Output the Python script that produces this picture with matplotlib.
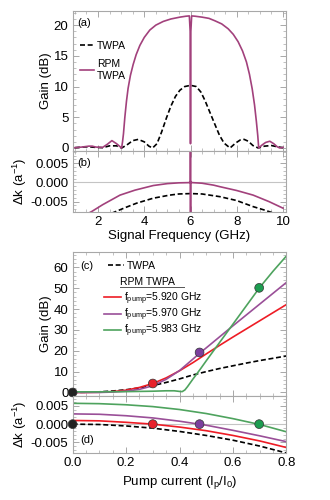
import numpy as np
import matplotlib
matplotlib.use('Agg')
import matplotlib.pyplot as plt
from matplotlib.ticker import MultipleLocator
from matplotlib.lines import Line2D

plt.rcParams['font.family'] = ['Liberation Sans', 'DejaVu Sans']
plt.rcParams['mathtext.fontset'] = 'custom'
plt.rcParams['mathtext.rm'] = 'Liberation Sans'
plt.rcParams['mathtext.it'] = 'Liberation Sans:italic'

# ---- (a) gain vs signal frequency ----
freq_twpa = [1.0, 1.3, 1.6, 1.9, 2.2, 2.5, 2.8, 3.02, 3.25, 3.5, 3.74, 4.0, 4.2, 4.36,
             4.55, 4.75, 4.96, 5.15, 5.35, 5.54, 5.75, 6.0, 6.25, 6.45, 6.63, 6.85,
             7.06, 7.25, 7.45, 7.71, 7.95, 8.15, 8.32, 8.5, 8.7, 8.93, 9.2, 9.5, 9.75, 10.0]
gain_twpa = [0.05, 0.15, 0.2, 0.1, 0.05, 0.35, 0.35, 0.0, 0.5, 1.2, 1.4, 1.0, 0.3, 0.0,
             0.7, 2.6, 4.9, 6.8, 8.4, 9.4, 10.0, 10.2, 10.0, 9.1, 7.7, 5.7,
             3.8, 2.1, 0.8, 0.0, 0.8, 1.3, 1.4, 1.1, 0.4, 0.0, 0.3, 0.4, 0.2, 0.05]

freq_rpm = [1.0, 1.3, 1.6, 1.75, 1.9, 2.2, 2.4, 2.6, 2.8, 3.02, 3.06, 3.1, 3.16, 3.23,
            3.3, 3.4, 3.52, 3.65, 3.81, 4.0, 4.24, 4.5, 4.82, 5.15, 5.54, 5.8, 5.95,
            5.985, 5.998, 6.0, 6.002, 6.015, 6.05, 6.2, 6.5, 6.8, 7.06, 7.35, 7.63,
            7.85, 8.06, 8.25, 8.42, 8.55, 8.67, 8.77, 8.85, 8.91, 8.95, 9.1, 9.25,
            9.43, 9.6, 9.75, 9.86, 10.0]
gain_rpm = [0.05, 0.15, 0.3, 0.3, 0.15, 0.1, 0.6, 1.2, 0.7, 0.0, 1.0, 2.3, 5.0, 7.6,
            9.7, 11.8, 13.6, 15.2, 16.7, 18.0, 19.2, 20.0, 20.6, 21.0, 21.3, 21.45, 21.5,
            19.0, 5.0, 0.7, 5.0, 19.0, 21.5, 21.45, 21.3, 21.1, 20.7, 20.2, 19.4,
            18.5, 17.3, 15.8, 14.0, 12.0, 9.6, 7.0, 4.3, 2.0, 0.0, 0.5, 0.9,
            1.1, 0.7, 0.2, 0.0, 0.1]

# ---- (b) phase mismatch vs signal frequency ----
freq_dk_twpa = [2.3, 2.6, 3.2, 3.67, 4.39, 5.1, 5.5, 6.0, 6.5, 7.27, 7.99, 8.71, 9.2, 9.5, 9.8]
dk_twpa = [-0.0090, -0.0080, -0.0065, -0.0054, -0.0041, -0.0033, -0.0030, -0.0029,
           -0.0030, -0.0037, -0.0047, -0.0063, -0.0072, -0.0078, -0.0086]

freq_dk_rpm = [1.0, 1.72, 2.2, 2.95, 3.6, 4.39, 5.0, 5.5, 5.9, 5.98, 5.995, 5.999, 6.001,
               6.005, 6.02, 6.1, 6.5, 7.0, 7.27, 8.0, 8.71, 9.4, 10.0]
dk_rpm = [-0.0098, -0.0076, -0.0058, -0.0033, -0.0020, -0.0008, -0.0003, -0.0001, -0.00005,
          0.0, 0.0003, 0.02, -0.02, 0.0003, 0.0, -0.00005, -0.0002, -0.0007, -0.0011,
          -0.0021, -0.0033, -0.0050, -0.0067]

# ---- (c) gain vs pump current ----
ip = [0.0, 0.05, 0.1, 0.15, 0.2, 0.25, 0.3, 0.35, 0.4, 0.45, 0.475, 0.5, 0.55, 0.6,
      0.65, 0.7, 0.75, 0.8]
gc_twpa = [0.0, 0.1, 0.3, 0.7, 1.3, 2.2, 3.3, 4.8, 6.5, 8.4, 9.2, 10.0, 11.5, 12.8,
           14.1, 15.3, 16.4, 17.5]
gc_920 = [0.0, 0.0, 0.1, 0.4, 1.1, 2.4, 4.3, 7.0, 10.4, 14.3, 16.4, 18.5, 22.6, 26.6,
          30.5, 34.4, 38.3, 42.2]
gc_970 = [0.0, 0.0, 0.0, 0.2, 0.6, 1.5, 3.2, 6.3, 10.5, 16.0, 18.8, 21.4, 26.7, 32.0,
          37.2, 42.4, 47.6, 52.8]
ip_983 = [0.0, 0.1, 0.2, 0.3, 0.35, 0.38, 0.40, 0.41, 0.42, 0.43, 0.44, 0.45, 0.46,
          0.48, 0.5, 0.55, 0.6, 0.65, 0.7, 0.75, 0.8]
gc_983 = [0.3, 0.3, 0.4, 0.6, 0.8, 0.8, 0.5, 0.4, 1.2, 2.8, 4.6, 6.4, 8.1,
          11.6, 15.2, 24.0, 32.8, 41.6, 50.4, 58.2, 65.5]

# ---- (d) phase mismatch vs pump current ----
ip_d = [0.0, 0.1, 0.2, 0.3, 0.4, 0.5, 0.6, 0.7, 0.8]
dk_d_twpa = [0.0, -0.0001, -0.0005, -0.0011, -0.0020, -0.0031, -0.0044, -0.0060, -0.0079]
dk_d_920 = [0.0010, 0.0009, 0.0005, 0.0, -0.0008, -0.0018, -0.0031, -0.0046, -0.0064]
dk_d_970 = [0.0028, 0.0027, 0.0023, 0.0017, 0.0008, -0.0003, -0.0017, -0.0032, -0.0048]
dk_d_983 = [0.0057, 0.0056, 0.0053, 0.0048, 0.0040, 0.0029, 0.0015, -0.0001, -0.0021]

# operating points
op_ip = [0.0, 0.3, 0.475, 0.698]
op_gain = [0.0, 4.3, 19.2, 50.2]
op_dk = [0.0, 0.0, 0.0, 0.0]
op_colors = ['#222222', '#e8212b', '#7b3f9e', '#1c9d50']

purple_a = '#a2417c'
red = '#ee1c25'
purple_c = '#9a4f98'
green = '#4ea35e'
frame_col = '#a8a8a8'

fig = plt.figure(figsize=(3.3, 5.0), dpi=100)
ax_a = fig.add_axes([0.220, 0.698, 0.648, 0.280])
ax_b = fig.add_axes([0.220, 0.576, 0.648, 0.122])
ax_c = fig.add_axes([0.220, 0.208, 0.648, 0.288])
ax_d = fig.add_axes([0.220, 0.094, 0.648, 0.114])


def frame(ax):
    for s in ax.spines.values():
        s.set_color(frame_col)
        s.set_linewidth(0.8)
    ax.tick_params(which='both', direction='in', top=True, right=True,
                   color=frame_col, labelsize=9.5, pad=3)
    ax.tick_params(which='major', length=4, width=0.7)
    ax.tick_params(which='minor', length=2, width=0.5)


dash = (0, (3, 1.6))

# (a)
ax_a.plot(freq_twpa, gain_twpa, color='black', lw=1.2, ls=dash, label='TWPA')
ax_a.plot(freq_rpm, gain_rpm, color=purple_a, lw=1.2, label='RPM\nTWPA')
ax_a.set_xlim(0.9, 10.15)
ax_a.set_ylim(-0.49, 22.3)
ax_a.xaxis.set_major_locator(MultipleLocator(2))
ax_a.xaxis.set_minor_locator(MultipleLocator(0.5))
ax_a.yaxis.set_major_locator(MultipleLocator(5))
ax_a.yaxis.set_minor_locator(MultipleLocator(1))
frame(ax_a)
ax_a.tick_params(labelbottom=False)
ax_a.set_ylabel('Gain (dB)', fontsize=9.5)
ax_a.yaxis.set_label_coords(-0.095, 0.5)
ax_a.text(0.02, 0.915, '(a)', transform=ax_a.transAxes, fontsize=8, va='center')
ax_a.legend(loc='upper left', bbox_to_anchor=(0.0, 0.84), frameon=False, fontsize=7.5,
            handlelength=1.4, handletextpad=0.25, labelspacing=0.8, borderpad=0.2)

# (b)
ax_b.axhline(0, color='#c4c4c4', lw=0.8)
ax_b.plot(freq_dk_twpa, dk_twpa, color='black', lw=1.2, ls=dash)
ax_b.plot(freq_dk_rpm, dk_rpm, color=purple_a, lw=1.2)
ax_b.set_xlim(0.9, 10.15)
ax_b.set_ylim(-0.0077, 0.0082)
ax_b.xaxis.set_major_locator(MultipleLocator(2))
ax_b.xaxis.set_minor_locator(MultipleLocator(0.5))
ax_b.yaxis.set_major_locator(MultipleLocator(0.005))
ax_b.yaxis.set_minor_locator(MultipleLocator(0.001))
ax_b.yaxis.set_major_formatter(lambda v, p: f'{v:.3f}'.replace('-0.000', '0.000'))
frame(ax_b)
ax_b.set_ylabel('Δk (a$^{-1}$)', fontsize=9.5)
ax_b.yaxis.set_label_coords(-0.205, 0.5)
ax_b.set_xlabel('Signal Frequency (GHz)', fontsize=9.5)
ax_b.xaxis.set_label_coords(0.5, -0.29)
ax_b.text(0.02, 0.8, '(b)', transform=ax_b.transAxes, fontsize=8, va='center')

# (c)
l_twpa, = ax_c.plot(ip, gc_twpa, color='black', lw=1.2, ls=dash)
l1, = ax_c.plot(ip, gc_920, color=red, lw=1.2)
l2, = ax_c.plot(ip, gc_970, color=purple_c, lw=1.2)
l3, = ax_c.plot(ip_983, gc_983, color=green, lw=1.2)
ax_c.scatter(op_ip, op_gain, s=40, c=op_colors, edgecolors='#333333', linewidths=0.5,
             zorder=5, clip_on=False)
ax_c.set_xlim(0, 0.8)
ax_c.set_ylim(-1.7, 67.4)
ax_c.xaxis.set_major_locator(MultipleLocator(0.2))
ax_c.xaxis.set_minor_locator(MultipleLocator(0.05))
ax_c.yaxis.set_major_locator(MultipleLocator(10))
ax_c.yaxis.set_minor_locator(MultipleLocator(2))
frame(ax_c)
ax_c.tick_params(labelbottom=False)
ax_c.set_ylabel('Gain (dB)', fontsize=9.5)
ax_c.yaxis.set_label_coords(-0.095, 0.5)
ax_c.text(0.035, 0.9, '(c)', transform=ax_c.transAxes, fontsize=8, va='center')
leg1 = ax_c.legend([l_twpa], ['TWPA'], loc='upper left', bbox_to_anchor=(0.13, 0.99),
                   frameon=False, fontsize=7.5, handlelength=1.6, handletextpad=0.25,
                   borderpad=0.2)
ax_c.add_artist(leg1)
ax_c.text(0.22, 0.795, 'RPM TWPA', transform=ax_c.transAxes, fontsize=7.5, va='center')
ax_c.add_artist(Line2D([0.22, 0.52], [0.755, 0.755], transform=ax_c.transAxes,
                       color='#555555', lw=0.7))
ax_c.legend([l1, l2, l3],
            ['f$_\\mathrm{pump}$=5.920 GHz', 'f$_\\mathrm{pump}$=5.970 GHz',
             'f$_\\mathrm{pump}$=5.983 GHz'],
            loc='upper left', bbox_to_anchor=(0.115, 0.785), frameon=False, fontsize=7.5,
            handlelength=1.6, handletextpad=0.25, labelspacing=0.0, borderpad=0.2)

# (d)
ax_d.axhline(0, color='#c4c4c4', lw=0.8)
ax_d.plot(ip_d, dk_d_twpa, color='black', lw=1.2, ls=dash)
ax_d.plot(ip_d, dk_d_920, color=red, lw=1.2)
ax_d.plot(ip_d, dk_d_970, color=purple_c, lw=1.2)
ax_d.plot(ip_d, dk_d_983, color=green, lw=1.2)
ax_d.scatter(op_ip, op_dk, s=40, c=op_colors, edgecolors='#333333', linewidths=0.5,
             zorder=5, clip_on=False)
ax_d.set_xlim(0, 0.8)
ax_d.set_ylim(-0.0079, 0.0077)
ax_d.xaxis.set_major_locator(MultipleLocator(0.2))
ax_d.xaxis.set_minor_locator(MultipleLocator(0.05))
ax_d.yaxis.set_major_locator(MultipleLocator(0.005))
ax_d.yaxis.set_minor_locator(MultipleLocator(0.001))
ax_d.yaxis.set_major_formatter(lambda v, p: f'{v:.3f}'.replace('-0.000', '0.000'))
ax_d.xaxis.set_major_formatter(lambda v, p: f'{v:.1f}')
frame(ax_d)
ax_d.set_ylabel('Δk (a$^{-1}$)', fontsize=9.5)
ax_d.yaxis.set_label_coords(-0.205, 0.5)
ax_d.set_xlabel('Pump current (I$_\\mathrm{p}$/I$_\\mathrm{0}$)', fontsize=9.5)
ax_d.xaxis.set_label_coords(0.5, -0.36)
ax_d.text(0.035, 0.22, '(d)', transform=ax_d.transAxes, fontsize=8, va='center')

fig.savefig('out.png', dpi=100)
